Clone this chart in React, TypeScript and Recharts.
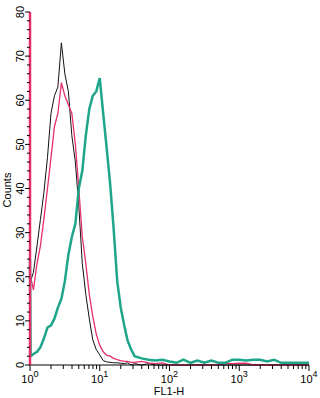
import React from 'react';
import { LineChart, Line, XAxis, YAxis } from 'recharts';

// FL1-H bin positions
const BINS = [
  1, 1.02, 1.12, 1.26, 1.41, 1.58, 1.78, 2.0, 2.24, 2.51, 2.82, 3.16, 3.55, 3.98, 4.47, 5.01,
  5.62, 6.31, 7.08, 7.94, 8.91, 10.0, 11.2, 12.6, 14.1, 15.8, 17.8, 20.0, 22.4, 25.1, 28.2, 31.6,
  39.8, 50.1, 63.1, 79.4, 100, 126, 158, 200, 251, 316, 398, 501, 631, 794, 1000, 1259, 1585,
  1995, 2512, 3162, 3981, 5012, 6310, 7943, 10000,
];

const BLACK = [
  18, 19, 21, 27, 33, 39, 47, 57, 61, 63, 73, 66, 62, 52, 46, 36,
  23, 16, 10.5, 5.7, 3.5, 2.3, 1, 0.7, 0.6, 0.5, 0.5, 0.4, 0.3, 0.5, 0, 0.3,
  0, 0.3, 0, 0, 0, 0, 0, 0, 0, 0, 0, 0, 0, 0, 0, 0, 0, 0, 0, 0, 0, 0, 0, 0, 0,
];

const PINK = [
  22, 20, 17, 23, 27, 33, 40, 47, 54, 57, 64, 61, 59, 57, 50, 40,
  29, 23, 16, 11, 7, 4.5, 3, 2.2, 2, 1.5, 1.2, 1, 0.8, 0.8, 0.6, 0.6,
  0.8, 0.5, 0.3, 0.5, 0, 0, 0, 0, 0, 0, 0, 0, 0.4, 0.3, 0.4, 0.4, 0, 0, 0, 0, 0, 0, 0, 0, 0,
];

const TEAL = [
  24, 2, 2.5, 3, 4, 6, 8.5, 9, 10.5, 13, 15, 19, 25, 29, 32, 40,
  44, 52, 58, 61, 62, 65, 57, 49, 41, 31, 19, 13, 9, 5.5, 3.5, 2,
  1.5, 1.2, 1, 1.2, 0.8, 0.5, 1.2, 0.5, 1, 0.5, 1, 0.5, 0.5, 1.2, 1.2, 1, 1.2, 1.2, 0.8, 1.2, 0.5, 0.5, 0.5, 0.5, 0.5,
];

const X_MAJOR = [1, 10, 100, 1000, 10000];
const X_EXP = ['0', '1', '2', '3', '4'];
const Y_MAJOR = [0, 10, 20, 30, 40, 50, 60, 70, 80];

const xTicks: number[] = [];
X_MAJOR.forEach((m, i) => {
  if (i < X_MAJOR.length - 1) {
    for (let k = 1; k < 10; k++) xTicks.push(m * k);
  } else xTicks.push(m);
});
const yTicks: number[] = [];
for (let v = 0; v <= 80; v += 2) yTicks.push(v);

const data = BINS.map((b, i) => ({ fl1: b, black: BLACK[i], pink: PINK[i], teal: TEAL[i] }));

const FONT = '"Liberation Sans", Arial, sans-serif';

const XTick = (props: any) => {
  const { x, y, payload } = props;
  const idx = X_MAJOR.indexOf(payload.value);
  const major = idx >= 0;
  return (
    <g>
      <line x1={x} x2={x} y1={y} y2={y + (major ? 6 : 4)} stroke="#000" strokeWidth={1} />
      {major && (
        <text x={x} y={y + 18} textAnchor="middle" fontSize={11} fontFamily={FONT} fill="#000">
          10<tspan dy={-6} fontSize={9}>{X_EXP[idx]}</tspan>
        </text>
      )}
    </g>
  );
};

const YTick = (props: any) => {
  const { x, y, payload } = props;
  const major = Y_MAJOR.includes(payload.value);
  return (
    <g>
      <line x1={x} x2={x - (major ? 5 : 3)} y1={y} y2={y} stroke="#000" strokeWidth={1} />
      {major && (
        <text
          transform={`rotate(-90 ${x - 6} ${y})`}
          x={x - 6}
          y={y}
          textAnchor="middle"
          fontSize={11}
          fontFamily={FONT}
          fill="#000"
        >
          {payload.value}
        </text>
      )}
    </g>
  );
};

export default function App() {
  return (
    <div style={{ position: 'absolute', left: 0, top: 0, width: 320, height: 398, background: '#fff' }}>
      <LineChart width={320} height={398} data={data} margin={{ top: 12, right: 11, bottom: 0, left: 0 }}>
        <XAxis
          dataKey="fl1"
          type="number"
          scale="log"
          domain={[1, 10000]}
          ticks={xTicks}
          interval={0}
          tickSize={0}
          tickMargin={0}
          tickLine={false}
          tick={<XTick />}
          height={33}
          axisLine={{ stroke: '#000', strokeWidth: 1 }}
          label={(p: any) => {
            const vb = p.viewBox || {};
            return (
              <text x={169} y={(vb.y ?? 365) + 30} textAnchor="middle" fontSize={11} fontFamily={FONT} fill="#000">
                FL1-H
              </text>
            );
          }}
        />
        <YAxis
          type="number"
          domain={[0, 80]}
          ticks={yTicks}
          interval={0}
          width={30}
          tickSize={0}
          tickMargin={0}
          tickLine={false}
          tick={<YTick />}
          axisLine={{ stroke: '#e5306b', strokeWidth: 2.5 }}
          label={(p: any) => (
            <text
              transform={`rotate(-90 11 190)`}
              x={11}
              y={190}
              textAnchor="middle"
              fontSize={11}
              fontFamily={FONT}
              fill="#000"
            >
              Counts
            </text>
          )}
        />
        <Line type="linear" dataKey="black" stroke="#111" strokeWidth={1} dot={false} isAnimationActive={false} />
        <Line type="linear" dataKey="pink" stroke="#e5306b" strokeWidth={1.3} dot={false} isAnimationActive={false} />
        <Line type="linear" dataKey="teal" stroke="#1fa58a" strokeWidth={2.5} dot={false} isAnimationActive={false} />
      </LineChart>
    </div>
  );
}
